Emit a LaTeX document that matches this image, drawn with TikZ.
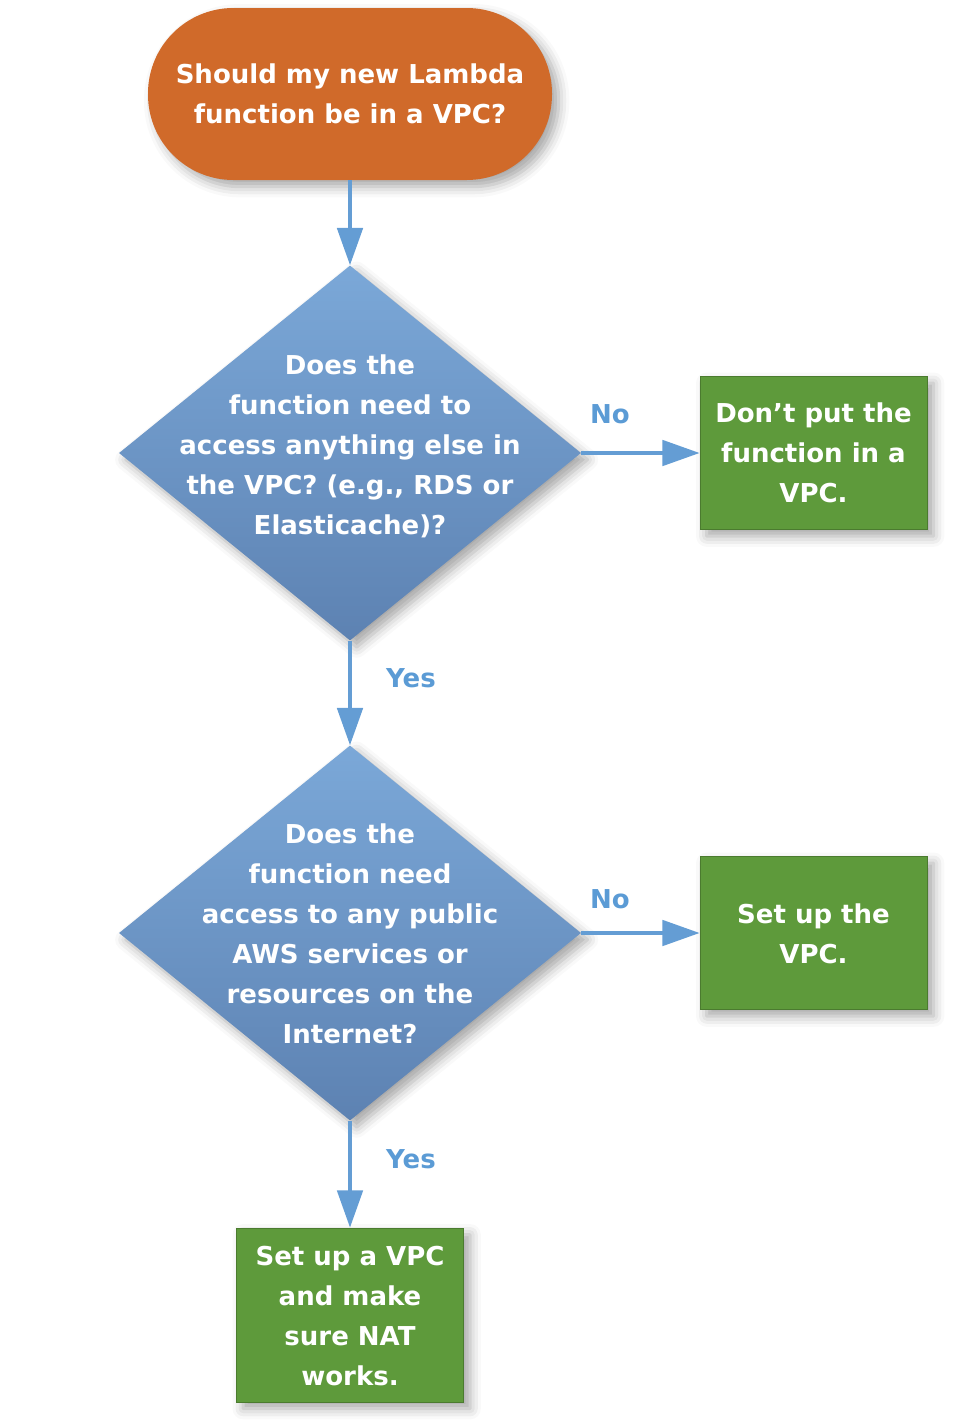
\documentclass[tikz,border=0pt]{standalone}
\usepackage{fontspec}
\setmainfont{DejaVu Sans}
\usetikzlibrary{shapes.geometric,shadows.blur,arrows.meta}
\definecolor{termorange}{HTML}{D06A2A}
\definecolor{boxgreen}{HTML}{5E9A3B}
\definecolor{linkblue}{HTML}{649DD4}
\definecolor{labelblue}{HTML}{5B9BD5}
\definecolor{diatop}{HTML}{7BA8D8}
\definecolor{diabot}{HTML}{5D82B2}
\begin{document}
\begin{tikzpicture}[x=0.75pt,y=-0.75pt,
  txt/.style={font=\fontsize{19.5}{30}\selectfont\bfseries, text=white, align=center, inner sep=0pt},
  lbl/.style={font=\fontsize{19.5}{24}\selectfont\bfseries, text=labelblue, inner sep=0pt},
  shade/.style={blur shadow={shadow xshift=5pt, shadow yshift=-5pt, shadow blur radius=8pt, shadow opacity=35}},
  term/.style={shade, fill=termorange, draw=none, rectangle, rounded corners=64pt, minimum width=303pt, minimum height=129pt, inner sep=0pt},
  outbox/.style={shade, fill=boxgreen, draw=boxgreen!80!black, line width=0.5pt, rectangle, minimum width=170.25pt, inner sep=0pt},
  decision/.style={shade, diamond, top color=diatop, bottom color=diabot, draw=none, minimum width=346.5pt, minimum height=281.25pt, inner sep=0pt},
  flow/.style={line width=3pt, draw=linkblue, -{Triangle[width=19pt,length=28pt]}}]
\useasboundingbox (0,0) rectangle (974,1428);

\node[term] (start) at (350,94) {};
\node[txt] (starttxt) at (350,94) {Should my new Lambda\\function be in a VPC?};

\node[decision] (d1) at (350,453) {};
\node[txt] (d1txt) at (350,446) {Does the\\function need to\\access anything else in\\the VPC? (e.g., RDS or\\Elasticache)?};

\node[outbox, minimum height=114.75pt] (b1) at (813.5,453) {};
\node[txt] (b1txt) at (813.5,453) {Don’t put the\\function in a\\VPC.};

\node[decision] (d2) at (350,933) {};
\node[txt] (d2txt) at (350,934) {Does the\\function need\\access to any public\\AWS services or\\resources on the\\Internet?};

\node[outbox, minimum height=114.75pt] (b2) at (813.5,933) {};
\node[txt] (b2txt) at (813.5,934) {Set up the\\VPC.};

\node[outbox, minimum height=130.5pt] (b3) at (350,1315) {};
\node[txt] (b3txt) at (350,1316) {Set up a VPC\\and make\\sure NAT\\works.};

\draw[flow] (start.south) -- (d1.north);
\draw[flow] (d1.east) -- (b1.west);
\draw[flow] (d1.south) -- (d2.north);
\draw[flow] (d2.east) -- (b2.west);
\draw[flow] (d2.south) -- (b3.north);

\node[lbl] (no1) at (610,414) {No};
\node[lbl] (yes1) at (411,678) {Yes};
\node[lbl] (no2) at (610,899) {No};
\node[lbl] (yes2) at (411,1159) {Yes};
\end{tikzpicture}
\end{document}
